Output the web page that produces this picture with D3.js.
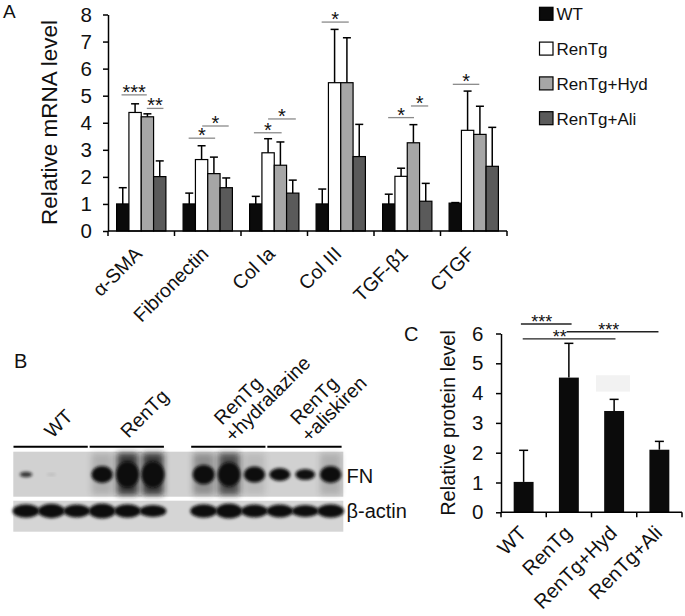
<!DOCTYPE html>
<html>
<head>
<meta charset="utf-8">
<script src="https://cdn.jsdelivr.net/npm/d3@7"></script>
<style>
  body { margin: 0; background: #fff; }
  svg text { font-family: "Liberation Sans", Arial, sans-serif; fill: #111; }
</style>
</head>
<body>
<div id="fig"></div>
<script>
// ---- panel A: mRNA levels ----
var genes = ["α-SMA", "Fibronectin", "Col Ia", "Col III", "TGF-β1", "CTGF"];
var groups = ["WT", "RenTg", "RenTg+Hyd", "RenTg+Ali"];
var mrnaWT = [1.0, 1.0, 1.0, 1.0, 1.0, 1.03];
var mrnaWTErr = [1.6, 1.4, 1.28, 1.55, 1.36, 1.05];
var mrnaRenTg = [4.38, 2.64, 2.89, 5.48, 2.02, 3.72];
var mrnaRenTgErr = [4.7, 3.15, 3.41, 7.45, 2.32, 5.17];
var mrnaHyd = [4.22, 2.12, 2.43, 5.48, 3.26, 3.57];
var mrnaHydErr = [4.33, 2.73, 3.29, 7.14, 3.93, 4.61];
var mrnaAli = [2.01, 1.6, 1.4, 2.75, 1.1, 2.39];
var mrnaAliErr = [2.59, 1.96, 1.88, 3.94, 1.76, 3.83];
var yTicksA = [0, 1, 2, 3, 4, 5, 6, 7, 8];
// significance: gene, from / to (in bar units inside the group), level, label
var sigA = [
  ["α-SMA", 0.4, 2.45, 5.03, "***"],
  ["α-SMA", 2.45, 3.8, 4.53, "**"],
  ["Fibronectin", 0.45, 2.6, 3.43, "*"],
  ["Fibronectin", 1.55, 3.7, 3.88, "*"],
  ["Col Ia", 0.35, 2.6, 3.63, "*"],
  ["Col Ia", 1.5, 3.75, 4.14, "*"],
  ["Col III", 0.45, 2.65, 7.72, "*"],
  ["TGF-β1", 0.45, 2.55, 4.19, "*"],
  ["TGF-β1", 2.3, 3.7, 4.62, "*"],
  ["CTGF", 0.3, 2.45, 5.42, "*"]
];

// ---- panel B: western blot ----
var blotGroups = [["WT"], ["RenTg"], ["RenTg", "+hydralazine"], ["RenTg", "+aliskiren"]];
var laneGroup = [0, 0, 0, 1, 1, 1, 2, 2, 2, 3, 3, 3];
var fnSignal = [0.35, 0.05, 0, 1.5, 2.6, 2.6, 1.8, 2.4, 1.4, 1.1, 0.9, 1.5];
var actinSignal = [1, 1.05, 0.95, 1.1, 1, 0.9, 1, 1.1, 0.95, 0.95, 0.9, 1];

// ---- panel C: protein levels ----
var proteinGroups = ["WT", "RenTg", "RenTg+Hyd", "RenTg+Ali"];
var proteinMean = [1.02, 4.52, 3.4, 2.1];
var proteinErr = [2.08, 5.67, 3.79, 2.38];
var yTicksC = [0, 1, 2, 3, 4, 5, 6];
// significance: from / to (in category units), level, label position, label
var sigC = [
  [0.44, 1.56, 6.32, 0.9, "***"],
  [0.48, 2.53, 5.82, 1.3, "**"],
  [1.45, 3.48, 6.06, 2.38, "***"]
];

var svg = d3.select("#fig").append("svg").attr("width", 685).attr("height", 616);

var defs = svg.append("defs");
defs.append("filter").attr("id", "blur").attr("x", "-50%").attr("y", "-50%").attr("width", "200%").attr("height", "200%")
  .append("feGaussianBlur").attr("stdDeviation", 1.8);
defs.append("filter").attr("id", "blurWide").attr("x", "-50%").attr("y", "-50%").attr("width", "200%").attr("height", "200%")
  .append("feGaussianBlur").attr("stdDeviation", 3);

// panel letters
svg.append("text").attr("x", 3).attr("y", 18).attr("font-size", 19).text("A");
svg.append("text").attr("x", 14).attr("y", 368).attr("font-size", 20).text("B");
svg.append("text").attr("x", 404).attr("y", 341).attr("font-size", 20).text("C");

/* ================= panel A ================= */
var xA = d3.scaleBand().domain(genes).range([108, 507]);
var xInA = d3.scaleBand().domain(groups).range([8.6, 57.9]);
var yA = d3.scaleLinear().domain([0, 8]).range([231, 14.5]);
var fillA = d3.scaleOrdinal().domain(groups).range(["#0b0b0b", "#ffffff", "#a6a6a6", "#5a5a5a"]);

var seriesA = [mrnaWT, mrnaRenTg, mrnaHyd, mrnaAli];
var errsA = [mrnaWTErr, mrnaRenTgErr, mrnaHydErr, mrnaAliErr];
var barsA = [];
genes.forEach(function (g, i) {
  groups.forEach(function (s, j) {
    barsA.push({ gene: g, group: s, value: seriesA[j][i], err: errsA[j][i] });
  });
});

var gA = svg.append("g");
gA.selectAll("rect.bar").data(barsA).enter().append("rect")
  .attr("class", "bar")
  .attr("x", function (d) { return xA(d.gene) + xInA(d.group); })
  .attr("y", function (d) { return yA(d.value); })
  .attr("width", xInA.bandwidth())
  .attr("height", function (d) { return yA(0) - yA(d.value); })
  .attr("fill", function (d) { return fillA(d.group); })
  .attr("stroke", "#000").attr("stroke-width", 1.2);

// error bars (upper only)
var errA = gA.selectAll("g.err").data(barsA).enter().append("g")
  .attr("transform", function (d) { return "translate(" + (xA(d.gene) + xInA(d.group) + xInA.bandwidth() / 2) + ",0)"; });
errA.append("line").attr("x1", 0).attr("x2", 0)
  .attr("y1", function (d) { return yA(d.value); })
  .attr("y2", function (d) { return yA(d.err); })
  .attr("stroke", "#000").attr("stroke-width", 1.5);
errA.append("line").attr("x1", -4).attr("x2", 4)
  .attr("y1", function (d) { return yA(d.err); })
  .attr("y2", function (d) { return yA(d.err); })
  .attr("stroke", "#000").attr("stroke-width", 1.5);

// significance marks
var barUnit = d3.scaleLinear().domain([0, 4]).range(xInA.range());
var sA = gA.selectAll("g.sig").data(sigA).enter().append("g");
sA.append("line")
  .attr("x1", function (d) { return xA(d[0]) + barUnit(d[1]); })
  .attr("x2", function (d) { return xA(d[0]) + barUnit(d[2]); })
  .attr("y1", function (d) { return yA(d[3]); })
  .attr("y2", function (d) { return yA(d[3]); })
  .attr("stroke", "#8a8a8a").attr("stroke-width", 1.3);
sA.append("text")
  .attr("x", function (d) { return xA(d[0]) + barUnit((d[1] + d[2]) / 2); })
  .attr("y", function (d) { return yA(d[3]) + 4; })
  .attr("text-anchor", "middle").attr("font-size", 20)
  .text(function (d) { return d[4]; });

// y axis
var yAxisA = gA.append("g").attr("transform", "translate(108,0)")
  .call(d3.axisLeft(yA).tickValues(yTicksA).tickFormat(d3.format("d")).tickSize(5).tickSizeOuter(0).tickPadding(11));
yAxisA.selectAll("path, line").attr("stroke", "#000").attr("stroke-width", 1.5);
yAxisA.selectAll("text").attr("font-size", 20.5).attr("font-family", "Liberation Sans, Arial, sans-serif").attr("fill", "#111");

// x axis with ticks at the category edges
var edgesA = genes.map(function (g) { return xA(g); }).concat([xA.range()[1]]);
gA.append("line").attr("x1", xA.range()[0]).attr("x2", xA.range()[1]).attr("y1", yA(0)).attr("y2", yA(0))
  .attr("stroke", "#000").attr("stroke-width", 1.5);
gA.selectAll("line.xt").data(edgesA).enter().append("line")
  .attr("x1", function (d) { return d; }).attr("x2", function (d) { return d; })
  .attr("y1", yA(0)).attr("y2", yA(0) + 5)
  .attr("stroke", "#000").attr("stroke-width", 1.5);
gA.selectAll("text.xl").data(genes).enter().append("text")
  .attr("transform", function (d) { return "translate(" + (xA(d) + xA.bandwidth() / 2 + 2) + "," + (yA(0) + 24) + ") rotate(-45)"; })
  .attr("text-anchor", "end").attr("font-size", 19.5)
  .text(function (d) { return d; });

gA.append("text")
  .attr("transform", "translate(56.5,122.5) rotate(-90)")
  .attr("text-anchor", "middle").attr("font-size", 22.5)
  .text("Relative mRNA level");

// legend
var legA = gA.selectAll("g.leg").data(groups).enter().append("g")
  .attr("transform", function (d, i) { return "translate(539.5," + (7.3 + i * 34.8) + ")"; });
legA.append("rect").attr("width", 13.5).attr("height", 13)
  .attr("fill", function (d) { return fillA(d); })
  .attr("stroke", "#000").attr("stroke-width", 1.2);
legA.append("text").attr("x", 17).attr("y", 13).attr("font-size", 17).text(function (d) { return d; });

/* ================= panel B ================= */
// lane slots: 12 lanes and a spacer between the RenTg and hydralazine groups
var slot = d3.scaleBand().domain(d3.range(13)).range([13.3, 343.3]);
function laneX(i) { return slot(i < 6 ? i : i + 1) + slot.bandwidth() / 2; }
var lanes = laneGroup.map(function (g, i) { return { i: i, group: g, fn: fnSignal[i], actin: actinSignal[i] }; });

var gB = svg.append("g");
gB.append("rect").attr("x", 13.3).attr("y", 451.7).attr("width", 330).attr("height", 45).attr("fill", "#d1d1d1");
gB.append("rect").attr("x", 13.3).attr("y", 500.7).attr("width", 330).attr("height", 31).attr("fill", "#d5d5d5");

var fnRx = d3.scaleLinear().domain([0, 1, 2.6]).range([4, 10.5, 11.5]).clamp(true);
var fnRy = d3.scaleLinear().domain([0, 0.4, 1.5, 2.6]).range([1, 3, 8.5, 13]).clamp(true);
var fnOp = d3.scaleLinear().domain([0, 0.4, 1]).range([0, 0.9, 1]).clamp(true);
var smearOp = d3.scaleLinear().domain([1.2, 2.6]).range([0, 0.85]).clamp(true);

gB.selectAll("rect.smear").data(lanes).enter().append("rect")
  .attr("x", function (d) { return laneX(d.i) - 10.5; })
  .attr("y", 453).attr("width", 21).attr("height", 42)
  .attr("fill", "#1a1a1a")
  .attr("opacity", function (d) { return smearOp(d.fn); })
  .attr("filter", "url(#blurWide)");
gB.selectAll("ellipse.fn").data(lanes).enter().append("ellipse")
  .attr("cx", function (d) { return laneX(d.i); })
  .attr("cy", 474.5)
  .attr("rx", function (d) { return fnRx(d.fn); })
  .attr("ry", function (d) { return fnRy(d.fn); })
  .attr("fill", "#111")
  .attr("opacity", function (d) { return fnOp(d.fn); })
  .attr("filter", "url(#blur)");
gB.selectAll("ellipse.actin").data(lanes).enter().append("ellipse")
  .attr("cx", function (d) { return laneX(d.i); })
  .attr("cy", 511)
  .attr("rx", 13.5)
  .attr("ry", function (d) { return 6.8 * d.actin; })
  .attr("fill", "#111")
  .attr("filter", "url(#blur)");

// group lines and labels
var groupSpan = blotGroups.map(function (lbl, g) {
  var idx = lanes.filter(function (d) { return d.group === g; }).map(function (d) { return d.i; });
  return { lbl: lbl, x0: laneX(idx[0]) - 12.5, x1: laneX(idx[idx.length - 1]) + 11, cx: laneX(idx[1]) };
});
gB.selectAll("line.grp").data(groupSpan).enter().append("line")
  .attr("x1", function (d) { return d.x0; }).attr("x2", function (d) { return d.x1; })
  .attr("y1", 446.7).attr("y2", 446.7)
  .attr("stroke", "#000").attr("stroke-width", 2);
groupSpan.forEach(function (d) {
  if (d.lbl.length === 1) {
    gB.append("text").attr("transform", "translate(" + (d.cx + 1) + ",439) rotate(-45)")
      .attr("font-size", 19.5).text(d.lbl[0]);
  } else {
    gB.append("text").attr("transform", "translate(" + (d.cx - 7) + ",426) rotate(-45)")
      .attr("font-size", 19.5).text(d.lbl[0]);
    gB.append("text").attr("transform", "translate(" + (d.cx + 4) + ",443) rotate(-45)")
      .attr("font-size", 19.5).text(d.lbl[1]);
  }
});
gB.append("text").attr("x", 346.5).attr("y", 483).attr("font-size", 20).text("FN");
gB.append("text").attr("x", 346.5).attr("y", 518).attr("font-size", 20).text("β-actin");

/* ================= panel C ================= */
var xC = d3.scaleBand().domain(proteinGroups).range([501, 682]).paddingInner(0.56).paddingOuter(0.28);
var catC = d3.scaleLinear().domain([0, 4]).range([501, 682]);
var yC = d3.scaleLinear().domain([0, 6]).range([512.3, 333.5]);
var barsC = proteinGroups.map(function (g, i) { return { group: g, value: proteinMean[i], err: proteinErr[i] }; });

var gC = svg.append("g");
// faint patch behind the hydralazine error bar
gC.append("rect").attr("x", catC(2.1)).attr("y", yC(4.6)).attr("width", catC(2.85) - catC(2.1)).attr("height", yC(4.05) - yC(4.6))
  .attr("fill", "#f2f2f2");

gC.selectAll("rect.bar").data(barsC).enter().append("rect")
  .attr("x", function (d) { return xC(d.group); })
  .attr("y", function (d) { return yC(d.value); })
  .attr("width", xC.bandwidth())
  .attr("height", function (d) { return yC(0) - yC(d.value); })
  .attr("fill", "#0b0b0b");
var errC = gC.selectAll("g.err").data(barsC).enter().append("g")
  .attr("transform", function (d) { return "translate(" + (xC(d.group) + xC.bandwidth() / 2) + ",0)"; });
errC.append("line").attr("x1", 0).attr("x2", 0)
  .attr("y1", function (d) { return yC(d.value); })
  .attr("y2", function (d) { return yC(d.err); })
  .attr("stroke", "#000").attr("stroke-width", 1.5);
errC.append("line").attr("x1", -4.5).attr("x2", 4.5)
  .attr("y1", function (d) { return yC(d.err); })
  .attr("y2", function (d) { return yC(d.err); })
  .attr("stroke", "#000").attr("stroke-width", 1.5);

var sC = gC.selectAll("g.sig").data(sigC).enter().append("g");
sC.append("line")
  .attr("x1", function (d) { return catC(d[0]); }).attr("x2", function (d) { return catC(d[1]); })
  .attr("y1", function (d) { return yC(d[2]); }).attr("y2", function (d) { return yC(d[2]); })
  .attr("stroke", "#222").attr("stroke-width", 1.4);
sC.append("text")
  .attr("x", function (d) { return catC(d[3]); })
  .attr("y", function (d) { return yC(d[2]) + 4.5; })
  .attr("text-anchor", "middle").attr("font-size", 18)
  .text(function (d) { return d[4]; });

var yAxisC = gC.append("g").attr("transform", "translate(501,0)")
  .call(d3.axisLeft(yC).tickValues(yTicksC).tickFormat(d3.format("d")).tickSize(5).tickSizeOuter(0).tickPadding(12.5));
yAxisC.selectAll("path, line").attr("stroke", "#000").attr("stroke-width", 1.5);
yAxisC.selectAll("text").attr("font-size", 20.5).attr("font-family", "Liberation Sans, Arial, sans-serif").attr("fill", "#111");

var edgesC = d3.range(5).map(function (k) { return catC(k); });
gC.append("line").attr("x1", 501).attr("x2", 682).attr("y1", yC(0)).attr("y2", yC(0))
  .attr("stroke", "#000").attr("stroke-width", 1.5);
gC.selectAll("line.xt").data(edgesC).enter().append("line")
  .attr("x1", function (d) { return d; }).attr("x2", function (d) { return d; })
  .attr("y1", yC(0)).attr("y2", yC(0) + 5)
  .attr("stroke", "#000").attr("stroke-width", 1.5);
gC.selectAll("text.xl").data(proteinGroups).enter().append("text")
  .attr("transform", function (d) { return "translate(" + (xC(d) + xC.bandwidth() / 2 + 4) + "," + (yC(0) + 22) + ") rotate(-45)"; })
  .attr("text-anchor", "end").attr("font-size", 20)
  .text(function (d) { return d; });

gC.append("text")
  .attr("transform", "translate(455,423) rotate(-90)")
  .attr("text-anchor", "middle").attr("font-size", 20)
  .text("Relative protein level");
</script>
</body>
</html>
